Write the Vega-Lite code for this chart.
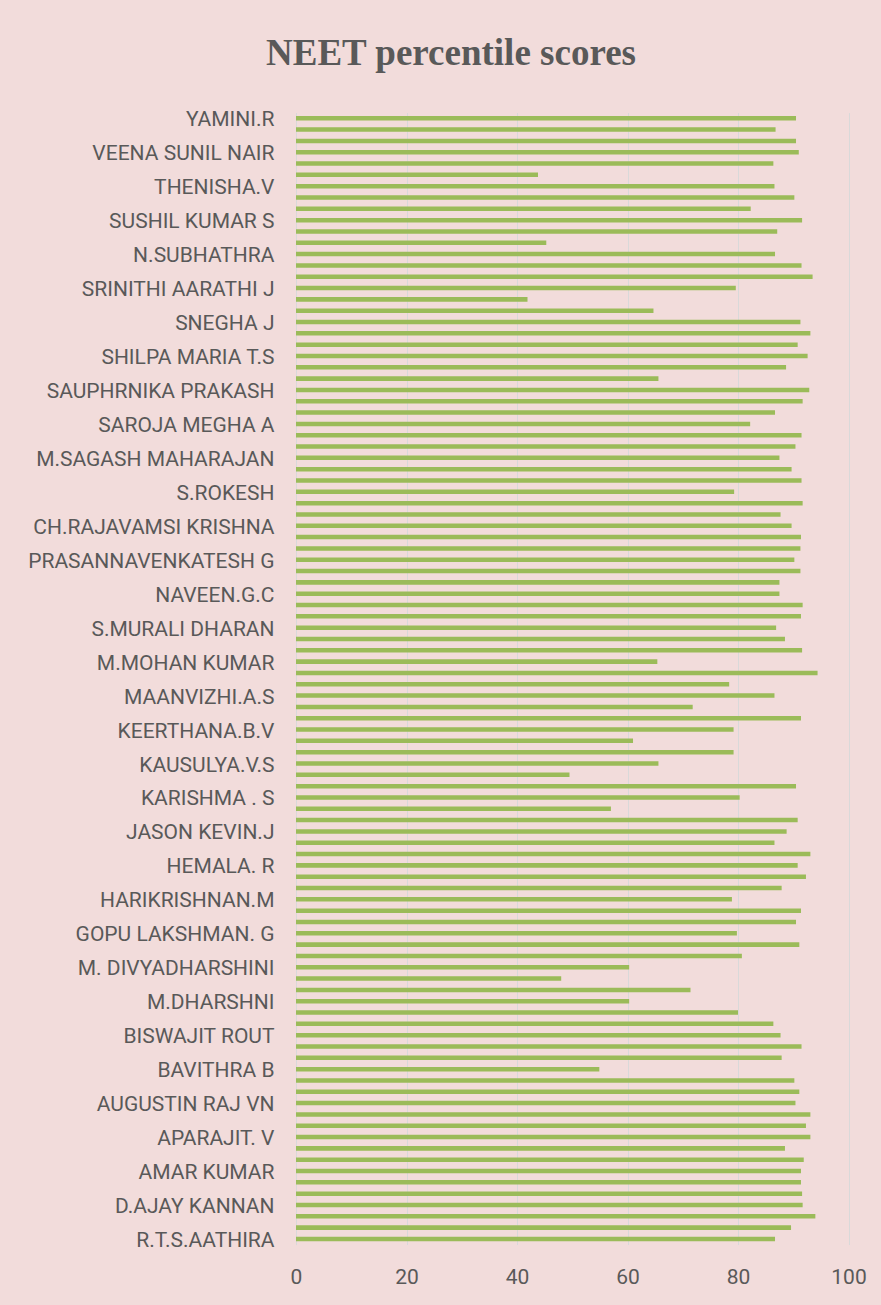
{
  "$schema": "https://vega.github.io/schema/vega-lite/v6.json",
  "width": 552.5,
  "height": 1132,
  "autosize": {"type": "none"},
  "padding": {"left": 296, "top": 112.6, "right": 32.5, "bottom": 60.4},
  "background": "#F2DCDB",
  "title": {
    "text": "NEET percentile scores",
    "font": "Liberation Serif",
    "fontSize": 37,
    "fontWeight": "bold",
    "color": "#595959",
    "anchor": "start",
    "frame": "group",
    "dx": -30,
    "baseline": "alphabetic",
    "offset": 7
  },
  "data": {
    "values": [
      {"student": "YAMINI.R", "score": 90.5},
      {"student": "_2", "score": 86.8},
      {"student": "_3", "score": 90.5},
      {"student": "VEENA SUNIL NAIR", "score": 91.0},
      {"student": "_5", "score": 86.4},
      {"student": "_6", "score": 43.8},
      {"student": "THENISHA.V", "score": 86.6},
      {"student": "_8", "score": 90.2},
      {"student": "_9", "score": 82.3},
      {"student": "SUSHIL KUMAR S", "score": 91.6},
      {"student": "_11", "score": 87.1},
      {"student": "_12", "score": 45.3},
      {"student": "N.SUBHATHRA", "score": 86.7},
      {"student": "_14", "score": 91.5},
      {"student": "_15", "score": 93.5},
      {"student": "SRINITHI AARATHI J", "score": 79.6},
      {"student": "_17", "score": 41.9},
      {"student": "_18", "score": 64.7},
      {"student": "SNEGHA J", "score": 91.3},
      {"student": "_20", "score": 93.1},
      {"student": "_21", "score": 90.8},
      {"student": "SHILPA MARIA T.S", "score": 92.6},
      {"student": "_23", "score": 88.7},
      {"student": "_24", "score": 65.6},
      {"student": "SAUPHRNIKA PRAKASH", "score": 92.9},
      {"student": "_26", "score": 91.7},
      {"student": "_27", "score": 86.7},
      {"student": "SAROJA MEGHA A", "score": 82.2},
      {"student": "_29", "score": 91.5},
      {"student": "_30", "score": 90.4},
      {"student": "M.SAGASH MAHARAJAN", "score": 87.5},
      {"student": "_32", "score": 89.7},
      {"student": "_33", "score": 91.5},
      {"student": "S.ROKESH", "score": 79.3},
      {"student": "_35", "score": 91.7},
      {"student": "_36", "score": 87.7},
      {"student": "CH.RAJAVAMSI KRISHNA", "score": 89.7},
      {"student": "_38", "score": 91.4},
      {"student": "_39", "score": 91.3},
      {"student": "PRASANNAVENKATESH G", "score": 90.2},
      {"student": "_41", "score": 91.3},
      {"student": "_42", "score": 87.5},
      {"student": "NAVEEN.G.C", "score": 87.5},
      {"student": "_44", "score": 91.7},
      {"student": "_45", "score": 91.4},
      {"student": "S.MURALI DHARAN", "score": 86.9},
      {"student": "_47", "score": 88.5},
      {"student": "_48", "score": 91.6},
      {"student": "M.MOHAN KUMAR ", "score": 65.4},
      {"student": "_50", "score": 94.4},
      {"student": "_51", "score": 78.4},
      {"student": "MAANVIZHI.A.S", "score": 86.6},
      {"student": "_53", "score": 71.8},
      {"student": "_54", "score": 91.4},
      {"student": "KEERTHANA.B.V", "score": 79.2},
      {"student": "_56", "score": 61.0},
      {"student": "_57", "score": 79.2},
      {"student": "KAUSULYA.V.S", "score": 65.6},
      {"student": "_59", "score": 49.5},
      {"student": "_60", "score": 90.5},
      {"student": "KARISHMA . S", "score": 80.3},
      {"student": "_62", "score": 57.0},
      {"student": "_63", "score": 90.8},
      {"student": "JASON KEVIN.J", "score": 88.8},
      {"student": "_65", "score": 86.6},
      {"student": "_66", "score": 93.1},
      {"student": "HEMALA. R", "score": 90.8},
      {"student": "_68", "score": 92.3},
      {"student": "_69", "score": 87.9},
      {"student": "HARIKRISHNAN.M", "score": 78.9},
      {"student": "_71", "score": 91.4},
      {"student": "_72", "score": 90.5},
      {"student": "GOPU LAKSHMAN. G", "score": 79.8},
      {"student": "_74", "score": 91.1},
      {"student": "_75", "score": 80.7},
      {"student": "M. DIVYADHARSHINI", "score": 60.3},
      {"student": "_77", "score": 48.0},
      {"student": "_78", "score": 71.4},
      {"student": "M.DHARSHNI", "score": 60.3},
      {"student": "_80", "score": 80.0},
      {"student": "_81", "score": 86.4},
      {"student": "BISWAJIT ROUT", "score": 87.7},
      {"student": "_83", "score": 91.5},
      {"student": "_84", "score": 87.9},
      {"student": "BAVITHRA B", "score": 54.9},
      {"student": "_86", "score": 90.2},
      {"student": "_87", "score": 91.1},
      {"student": "AUGUSTIN RAJ VN", "score": 90.4},
      {"student": "_89", "score": 93.1},
      {"student": "_90", "score": 92.3},
      {"student": "APARAJIT. V", "score": 93.1},
      {"student": "_92", "score": 88.5},
      {"student": "_93", "score": 91.9},
      {"student": "AMAR KUMAR", "score": 91.4},
      {"student": "_95", "score": 91.4},
      {"student": "_96", "score": 91.6},
      {"student": "D.AJAY KANNAN", "score": 91.7},
      {"student": "_98", "score": 94.0},
      {"student": "_99", "score": 89.6},
      {"student": "R.T.S.AATHIRA", "score": 86.7}
    ]
  },
  "mark": {"type": "bar", "color": "#9BBB59"},
  "encoding": {
    "y": {
      "field": "student",
      "type": "nominal",
      "sort": null,
      "scale": {"paddingInner": 0.6, "paddingOuter": 0.3},
      "axis": {
        "title": null,
        "ticks": false,
        "domain": true,
        "domainColor": "#D9D9D9",
        "labelExpr": "substring(datum.label, 0, 1) == '_' ? '' : datum.label",
        "labelFont": "Roboto",
        "labelFontSize": 21,
        "labelColor": "#595959",
        "labelPadding": 22,
        "labelOffset": 2,
        "labelLimit": 400,
        "labelOverlap": false
      }
    },
    "x": {
      "field": "score",
      "type": "quantitative",
      "scale": {"domain": [0, 100]},
      "axis": {
        "title": null,
        "values": [0, 20, 40, 60, 80, 100],
        "ticks": false,
        "domain": false,
        "grid": true,
        "gridColor": "#D9D9D9",
        "gridWidth": 1,
        "labelFont": "Roboto",
        "labelFontSize": 21,
        "labelColor": "#595959",
        "labelPadding": 22,
        "labelFlush": false
      }
    }
  },
  "config": {"view": {"stroke": null}}
}
